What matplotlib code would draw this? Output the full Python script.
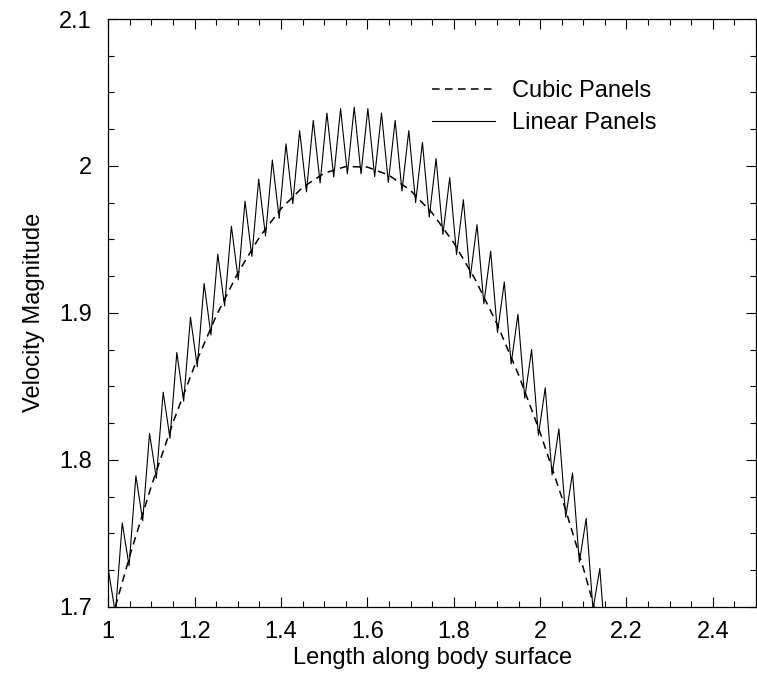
import matplotlib
matplotlib.use("Agg")
import matplotlib.pyplot as plt
from matplotlib.ticker import MultipleLocator

plt.rcParams['font.family'] = ['Liberation Sans', 'DejaVu Sans']

# Cubic panels (smooth curve)
cubic_x = [0.95, 1.00, 1.05, 1.10, 1.15, 1.20, 1.25, 1.30, 1.35, 1.40, 1.45, 1.50, 1.55,
           1.60, 1.65, 1.70, 1.75, 1.80, 1.85, 1.90, 1.95, 2.00, 2.05, 2.10, 2.15, 2.20]
cubic_y = [1.6268, 1.6829, 1.7349, 1.7824, 1.8255, 1.8641, 1.8980, 1.9271, 1.9515, 1.9709,
           1.9854, 1.9950, 1.9996, 1.9992, 1.9937, 1.9833, 1.9680, 1.9477, 1.9226, 1.8926,
           1.8579, 1.8186, 1.7747, 1.7264, 1.6738, 1.6170]

# Linear panels (zig-zag): alternating trough / peak vertices
linear_x = [0.9849, 1.0007, 1.0165, 1.0323, 1.0481, 1.0639, 1.0797, 1.0955, 1.1113, 1.1271,
            1.1429, 1.1587, 1.1745, 1.1903, 1.2061, 1.2219, 1.2377, 1.2535, 1.2693, 1.2851,
            1.3009, 1.3167, 1.3325, 1.3483, 1.3641, 1.3799, 1.3957, 1.4115, 1.4273, 1.4431,
            1.4589, 1.4747, 1.4905, 1.5063, 1.5221, 1.5379, 1.5537, 1.5695, 1.5853, 1.6011,
            1.6169, 1.6327, 1.6485, 1.6643, 1.6801, 1.6959, 1.7117, 1.7275, 1.7433, 1.7591,
            1.7749, 1.7907, 1.8065, 1.8223, 1.8381, 1.8539, 1.8697, 1.8855, 1.9013, 1.9171,
            1.9329, 1.9487, 1.9645, 1.9803, 1.9961, 2.0119, 2.0277, 2.0435, 2.0593, 2.0751,
            2.0909, 2.1067, 2.1225, 2.1383, 2.1541]
linear_y = [1.6614, 1.724, 1.6954, 1.757, 1.7278, 1.789, 1.7585, 1.818, 1.7874, 1.846,
            1.8146, 1.873, 1.8399, 1.897, 1.8633, 1.920, 1.8849, 1.940, 1.9047, 1.959,
            1.9225, 1.976, 1.9384, 1.991, 1.9523, 2.004, 1.9643, 2.015, 1.9743, 2.024,
            1.9824, 2.031, 1.9884, 2.036, 1.9925, 2.039, 1.9946, 2.040, 1.9946, 2.039,
            1.9927, 2.036, 1.9888, 2.031, 1.9829, 2.024, 1.9751, 2.016, 1.9652, 2.005,
            1.9534, 1.992, 1.9396, 1.977, 1.9238, 1.960, 1.9062, 1.942, 1.8866, 1.921,
            1.8652, 1.899, 1.8419, 1.875, 1.8167, 1.849, 1.7897, 1.821, 1.7610, 1.791,
            1.7304, 1.760, 1.6982, 1.726, 1.6643]

x_ticks = [1, 1.2, 1.4, 1.6, 1.8, 2, 2.2, 2.4]
x_tick_labels = ['1', '1.2', '1.4', '1.6', '1.8', '2', '2.2', '2.4']
y_ticks = [1.7, 1.8, 1.9, 2.0, 2.1]
y_tick_labels = ['1.7', '1.8', '1.9', '2', '2.1']

W, H = 757, 681
fig = plt.figure(figsize=(W / 100, H / 100), dpi=100)
ax = fig.add_axes([108.3 / W, 1 - 606.7 / H, (756 - 108.3) / W, (606.7 - 19) / H])

ax.plot(cubic_x, cubic_y, color='black', lw=1.1, dashes=(5, 3.5), label='Cubic Panels')
ax.plot(linear_x, linear_y, color='black', lw=0.8, label='Linear Panels')

ax.set_xlim(1.0, 2.5)
ax.set_ylim(1.7, 2.1)
ax.set_xticks(x_ticks)
ax.set_xticklabels(x_tick_labels)
ax.set_yticks(y_ticks)
ax.set_yticklabels(y_tick_labels)
ax.xaxis.set_minor_locator(MultipleLocator(0.05))
ax.yaxis.set_minor_locator(MultipleLocator(0.025))

ax.tick_params(which='both', direction='in', top=True, right=True, width=0.8, labelsize=17)
ax.tick_params(which='major', length=7.2)
ax.tick_params(which='minor', length=4)
ax.tick_params(axis='x', which='major', pad=10)
ax.tick_params(axis='y', which='major', pad=12)
for s in ax.spines.values():
    s.set_linewidth(0.9)

ax.set_xlabel('Length along body surface', fontsize=17, labelpad=3)
ax.set_ylabel('Velocity Magnitude', fontsize=17, labelpad=10)

leg = ax.legend(loc='center left', bbox_to_anchor=(0.4998, 0.850), frameon=False,
                fontsize=17, handlelength=2.65, handletextpad=0.72, labelspacing=0.45,
                borderpad=0, borderaxespad=0)

fig.savefig('out.png', dpi=100)
